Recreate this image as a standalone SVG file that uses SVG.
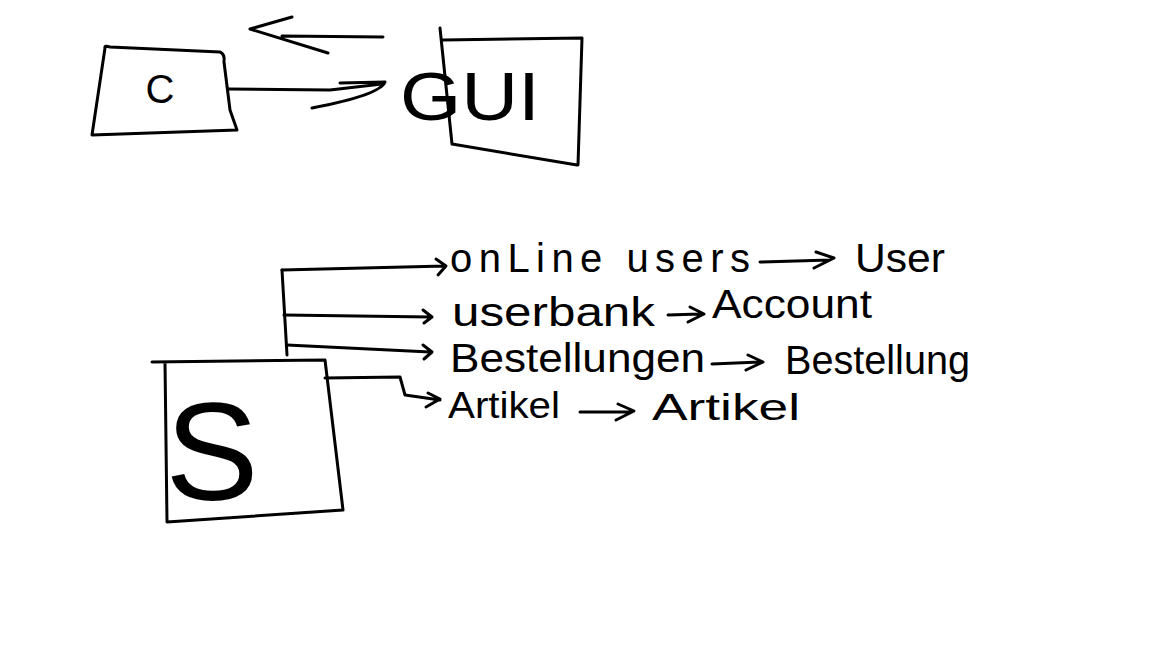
<svg xmlns="http://www.w3.org/2000/svg" width="1152" height="648" viewBox="0 0 1152 648">
<style>
.s{fill:none;stroke:#000;stroke-width:3;stroke-linecap:round;stroke-linejoin:round}
.t{font-family:"Liberation Sans",Arial,sans-serif;fill:#000}
</style>
<rect width="1152" height="648" fill="#fff"/>
<g id="node-C">
<path class="s" d="M105,48 Q104,45 110,47 L220,52 Q225,54 224,62 L230,110 L237,130 L92,135 L105,48"/>
<text class="t" x="160" y="103" font-size="40" text-anchor="middle">C</text>
</g>
<g id="node-GUI">
<path class="s" d="M440,28 L452,144 L577,165 M443,40 L582,38 L578,165"/>
<text class="t" x="400" y="120" font-size="68" textLength="140" lengthAdjust="spacingAndGlyphs">GUI</text>
</g>
<g id="node-S">
<path class="s" d="M152,362 L325,360 L343,510 L167,522 L165,362"/>
<text class="t" x="212" y="500" font-size="140" text-anchor="middle">S</text>
</g>
<g id="labels">
<text class="t" x="450" y="272" font-size="40" textLength="300" lengthAdjust="spacing">onLine users</text>
<text class="t" x="855" y="272" font-size="40" textLength="90" lengthAdjust="spacingAndGlyphs">User</text>
<text class="t" x="452" y="326" font-size="40" textLength="203" lengthAdjust="spacingAndGlyphs">userbank</text>
<text class="t" x="712" y="318" font-size="40" textLength="160" lengthAdjust="spacingAndGlyphs">Account</text>
<text class="t" x="450" y="372" font-size="40" textLength="255" lengthAdjust="spacingAndGlyphs">Bestellungen</text>
<text class="t" x="785" y="374" font-size="40" textLength="185" lengthAdjust="spacingAndGlyphs">Bestellung</text>
<text class="t" x="448" y="418" font-size="36" textLength="112" lengthAdjust="spacingAndGlyphs">Artikel</text>
<text class="t" x="652" y="420" font-size="36" textLength="148" lengthAdjust="spacingAndGlyphs">Artikel</text>
</g>
<g id="connectors">
<path class="s" d="M228,89 L330,90 L382,84 M340,83 L385,82 Q380,95 312,108"/>
<path class="s" d="M383,37 L282,36 M292,17 L250,29 L328,53"/>
<path class="s" d="M282,270 L445,266 M436,259 L446,266 L438,275"/>
<path class="s" d="M282,270 L287,355"/>
<path class="s" d="M284,315 L430,317 M423,310 L432,317 L424,323"/>
<path class="s" d="M287,345 L430,352 M423,345 L432,352 L424,359"/>
<path class="s" d="M325,378 L400,377 L405,395 L440,400 M428,393 L440,399 L426,407"/>
<path class="s" d="M760,262 L830,260 M816,252 L834,258 L814,268"/>
<path class="s" d="M668,315 L700,314 M690,307 L704,314 L688,322"/>
<path class="s" d="M712,364 L760,362 M748,355 L763,362 L746,370"/>
<path class="s" d="M580,412 L630,412 M618,404 L634,411 L616,420"/>
</g>
</svg>
